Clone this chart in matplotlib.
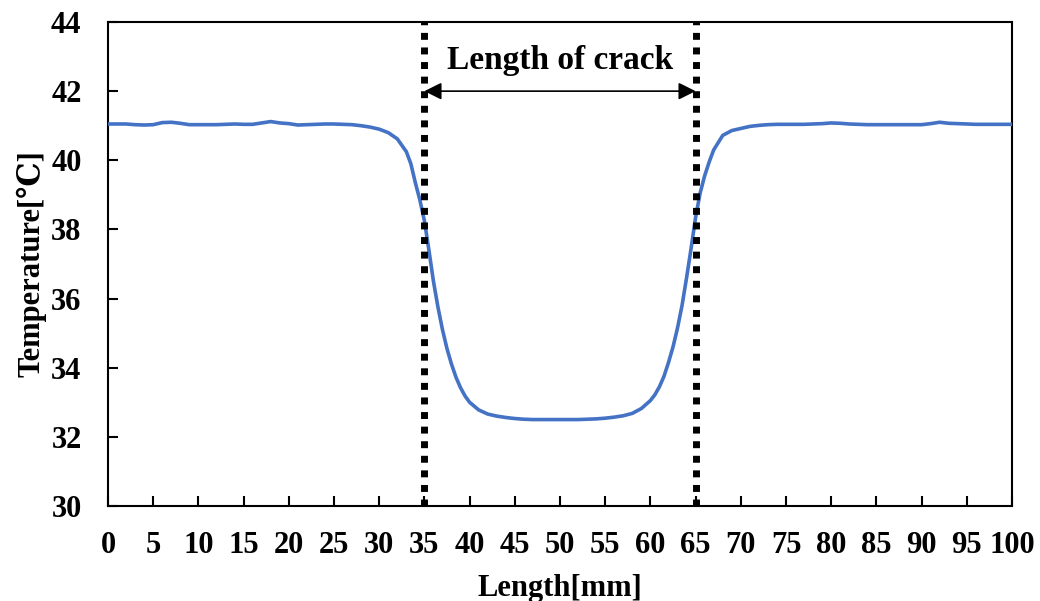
import numpy as np
import matplotlib
matplotlib.use("Agg")
import matplotlib.pyplot as plt

# ---- data ----
length_mm = [0, 1, 2, 3, 4, 5, 6, 7, 8, 9, 10, 11, 12, 13, 14, 15, 16, 17, 18, 19,
             20, 21, 22, 23, 24, 25, 26, 27, 28, 29, 30, 31, 32, 33, 33.5, 34, 34.5,
             35, 35.5, 36, 36.5, 37, 37.5, 38, 38.5, 39, 39.5, 40, 41, 42, 43, 44, 45,
             46, 47, 48, 49, 50, 51, 52, 53, 54, 55, 56, 57, 58, 59, 60, 60.5, 61, 61.5,
             62, 62.5, 63, 63.5, 64, 64.5, 65, 65.5, 66, 66.5, 67, 68, 69, 70, 71, 72,
             73, 74, 75, 76, 77, 78, 79, 80, 81, 82, 83, 84, 85, 86, 87, 88, 89, 90,
             91, 92, 93, 94, 95, 96, 97, 98, 99, 100]
temperature = [41.05, 41.05, 41.05, 41.03, 41.02, 41.03, 41.09, 41.10, 41.07, 41.03,
               41.03, 41.03, 41.03, 41.04, 41.05, 41.04, 41.04, 41.08, 41.12, 41.08,
               41.06, 41.02, 41.03, 41.04, 41.05, 41.05, 41.04, 41.03, 41.00, 40.96,
               40.90, 40.80, 40.62, 40.25, 39.90, 39.35, 38.85,
               38.25, 37.40, 36.50, 35.75, 35.10, 34.55, 34.10, 33.72, 33.42, 33.18,
               33.00, 32.78, 32.66, 32.60, 32.56, 32.53,
               32.51, 32.50, 32.50, 32.50, 32.50, 32.50, 32.50, 32.51, 32.52, 32.54,
               32.57, 32.61, 32.68, 32.82, 33.05, 33.22, 33.45, 33.75,
               34.15, 34.60, 35.15, 35.80, 36.60, 37.45, 38.35, 39.05, 39.55, 39.95,
               40.30, 40.72, 40.86, 40.92, 40.98, 41.01,
               41.03, 41.04, 41.04, 41.04, 41.04, 41.05, 41.06, 41.08, 41.07, 41.05,
               41.04, 41.03, 41.03, 41.03, 41.03, 41.03, 41.03, 41.03,
               41.06, 41.10, 41.07, 41.06, 41.05, 41.04, 41.04, 41.04, 41.04, 41.04]
crack_start = 35
crack_end = 65
arrow_y = 42
x_ticks = list(range(0, 101, 5))
y_ticks = list(range(30, 45, 2))

plt.rcParams['font.family'] = ['Liberation Serif', 'DejaVu Serif']
plt.rcParams['font.weight'] = 'bold'

fig = plt.figure(figsize=(10.40, 6.01), dpi=100)
ax = fig.add_axes([108/1040, 1-506/601, (1012-108)/1040, (506-22)/601])

ax.plot(length_mm, temperature, color='#4472C4', lw=2.6, zorder=3,
        solid_joinstyle='round')

for xv in (crack_start, crack_end):
    ax.axvline(xv, color='black', lw=5, linestyle=(0, (1, 1.1)),
               dash_capstyle='butt', zorder=4)

ax.annotate('', xy=(crack_start, arrow_y), xytext=(crack_end, arrow_y),
            arrowprops=dict(arrowstyle='<|-|>', color='black', lw=1.2,
                            mutation_scale=26, shrinkA=0, shrinkB=0), zorder=5)
ax.text((crack_start + crack_end) / 2, 42.9, 'Length of crack', ha='center',
        va='center', fontsize=24, fontweight='bold')

ax.set_xlim(0, 100)
ax.set_ylim(30, 44)
ax.set_xticks(x_ticks)
ax.set_yticks(y_ticks)
ax.tick_params(direction='in', length=7, width=1.5, labelsize=22)
ax.tick_params(axis='x', pad=18)
ax.tick_params(axis='y', pad=19)
for lbl in ax.get_xticklabels() + ax.get_yticklabels():
    lbl.set_fontweight('bold')
for s in ax.spines.values():
    s.set_linewidth(1.5)

ax.set_xlabel('Length[mm]', fontsize=22, fontweight='bold', labelpad=10)
ax.set_ylabel('Temperature[℃]', fontsize=22, fontweight='bold', labelpad=3)

fig.savefig('out.png', dpi=100)
